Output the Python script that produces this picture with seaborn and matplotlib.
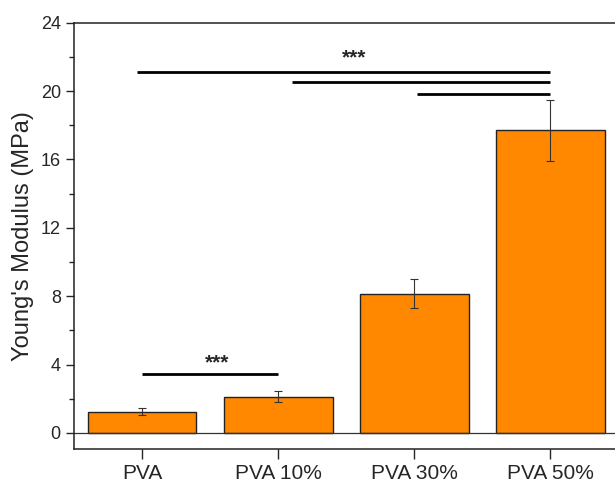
# Young's modulus of PVA films, bar chart with significance bars

import numpy as np
import pandas as pd
import matplotlib
matplotlib.use('Agg')
import matplotlib.pyplot as plt
import seaborn as sns
from matplotlib.ticker import MultipleLocator

# Data
groups = ['PVA', 'PVA 10%', 'PVA 30%', 'PVA 50%']
modulus = [1.25, 2.13, 8.14, 17.7]
modulus_sd = [0.22, 0.32, 0.85, 1.8]

# significance brackets: start / end (group index) and height
sig_start = [-0.04, 1.1, 2.02, 0.0]
sig_end = [3.0, 3.0, 3.0, 1.0]
sig_y = [21.1, 20.5, 19.83, 3.45]
# star labels: x, baseline y, text
sig_labels = [(1.56, 21.6, '***'), (0.55, 3.77, '***')]

df = pd.DataFrame({'group': groups, 'modulus': modulus})

sns.set_style('ticks')
plt.rcParams['font.family'] = ['Liberation Sans', 'DejaVu Sans']

fig = plt.figure(figsize=(6.15, 4.82), dpi=100)
ax = fig.add_axes([0.1203, 0.0685, 0.885, 0.8845])

sns.barplot(data=df, x='group', y='modulus', color='#FF8800', width=0.8,
            edgecolor='#222222', linewidth=1.0, saturation=1, ax=ax, errorbar=None)
ax.errorbar(np.arange(len(groups)), modulus, yerr=modulus_sd, fmt='none',
            ecolor='#333333', elinewidth=0.8, capsize=3, capthick=0.8)

for x0, x1, y in zip(sig_start, sig_end, sig_y):
    ax.plot([x0, x1], [y, y], color='black', lw=2, solid_capstyle='butt')
for x, y, s in sig_labels:
    ax.text(x, y, s, ha='center', va='baseline', fontsize=15, fontweight='bold')

ax.axhline(0, color='#333333', lw=0.9)

ax.set_xlim(-0.5, 3.5)
ax.set_ylim(-0.94, 24)
ax.yaxis.set_major_locator(MultipleLocator(4))
ax.yaxis.set_minor_locator(MultipleLocator(2))
ax.tick_params(axis='y', which='major', length=6, width=1, labelsize=13, direction='out')
ax.tick_params(axis='y', which='minor', length=3.5, width=1, direction='out')
ax.tick_params(axis='x', length=7, width=1, labelsize=15, direction='out')

for sp in ax.spines.values():
    sp.set_linewidth(1.1)
    sp.set_color('#222222')

ax.set_xlabel('')
ax.set_ylabel("Young's Modulus (MPa)", fontsize=17, labelpad=5)

fig.savefig('out.png', dpi=100)
